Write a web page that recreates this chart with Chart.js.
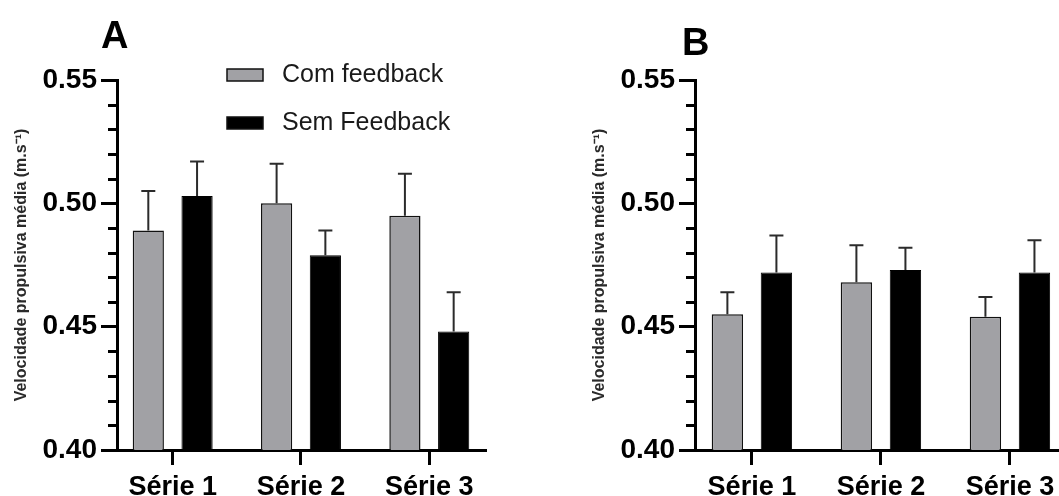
<!DOCTYPE html>
<html>
<head>
<meta charset="utf-8">
<script src="https://cdn.jsdelivr.net/npm/chart.js@4.4.0/dist/chart.umd.min.js"></script>
<style>
  html, body { margin: 0; padding: 0; background: #fff; overflow: hidden; }
  body { width: 1059px; height: 496px; position: relative; }
  canvas { position: absolute; top: 0; }
  #chartA { left: 0; }
  #chartB { left: 578px; }
</style>
</head>
<body>
<canvas id="chartA" width="577" height="496"></canvas>
<canvas id="chartB" width="577" height="496"></canvas>
<script>
// Data
const categories = ["Série 1", "Série 2", "Série 3"];
const seriesNames = ["Com feedback", "Sem Feedback"];

// Panel A
const comMeanA = [0.489, 0.5, 0.495];
const comSdA = [0.016, 0.016, 0.017];
const semMeanA = [0.503, 0.479, 0.448];
const semSdA = [0.014, 0.01, 0.016];

// Panel B
const comMeanB = [0.455, 0.468, 0.454];
const comSdB = [0.009, 0.015, 0.008];
const semMeanB = [0.472, 0.473, 0.472];
const semSdB = [0.015, 0.009, 0.013];

const yTicks = [0.4, 0.45, 0.5, 0.55];
const yTitle = "Velocidade propulsiva média (m.s⁻¹)";

const FONT = "'Liberation Sans', Arial, Helvetica, sans-serif";
const GREY = "#a1a1a5";

// error bars (upper whisker only, like the original)
const errorBars = {
  id: "errorBars",
  afterDatasetsDraw(chart) {
    const ctx = chart.ctx;
    const yScale = chart.scales.y;
    ctx.save();
    ctx.strokeStyle = "#2b2b2b";
    ctx.lineWidth = 2;
    chart.data.datasets.forEach((ds, di) => {
      const meta = chart.getDatasetMeta(di);
      meta.data.forEach((bar, i) => {
        const top = yScale.getPixelForValue(ds.data[i].y + ds.sd[i]);
        ctx.beginPath();
        ctx.moveTo(bar.x, bar.y);
        ctx.lineTo(bar.x, top);
        ctx.moveTo(bar.x - 7, top);
        ctx.lineTo(bar.x + 7, top);
        ctx.stroke();
      });
    });
    ctx.restore();
  },
};

// minor ticks on the y axis + panel letter + legend
const decorations = {
  id: "decorations",
  afterDraw(chart, args, opts) {
    const ctx = chart.ctx;
    const yScale = chart.scales.y;
    const left = chart.chartArea.left;
    ctx.save();
    ctx.strokeStyle = "#000";
    ctx.lineWidth = 3;
    for (let k = 41; k < 55; k++) {
      if (k % 5 === 0) continue;
      const y = Math.round(yScale.getPixelForValue(k / 100)) + 0.5;
      ctx.beginPath();
      ctx.moveTo(left - 9, y);
      ctx.lineTo(left, y);
      ctx.stroke();
    }

    ctx.fillStyle = "#000";
    ctx.font = "bold 38px " + FONT;
    ctx.textBaseline = "alphabetic";
    ctx.textAlign = "left";
    ctx.fillText(opts.letter, opts.letterX, opts.letterY);

    if (opts.legend) {
      ctx.font = "25px " + FONT;
      ctx.textBaseline = "middle";
      chart.data.datasets.forEach((ds, i) => {
        const by = 69 + i * 48;
        ctx.fillStyle = ds.backgroundColor;
        ctx.fillRect(227, by, 36, 12);
        ctx.lineWidth = 1.5;
        ctx.strokeStyle = "#111";
        ctx.strokeRect(227, by, 36, 12);
        ctx.fillStyle = "#1a1a1a";
        ctx.fillText(ds.label, 282, by + 6);
      });
    }
    ctx.restore();
  },
};

function makePanel(canvasId, comMean, comSd, semMean, semSd, xMin, xMax, deco) {
  const ctx = document.getElementById(canvasId).getContext("2d");
  return new Chart(ctx, {
    type: "bar",
    data: {
      datasets: [
        {
          label: seriesNames[0],
          data: comMean.map((v, i) => ({ x: i, y: v })),
          sd: comSd,
          backgroundColor: GREY,
          borderColor: "#111",
          borderWidth: 1.5,
        },
        {
          label: seriesNames[1],
          data: semMean.map((v, i) => ({ x: i, y: v })),
          sd: semSd,
          backgroundColor: "#000",
          borderColor: "#000",
          borderWidth: 1,
        },
      ],
    },
    options: {
      responsive: false,
      animation: false,
      events: [],
      categoryPercentage: 0.76,
      barPercentage: 0.64,
      layout: { padding: { left: 0, top: 80, right: 91, bottom: 0 } },
      plugins: {
        legend: { display: false },
        tooltip: { enabled: false },
        decorations: deco,
      },
      scales: {
        x: {
          type: "linear",
          min: xMin,
          max: xMax,
          offset: false,
          afterBuildTicks: (scale) => {
            scale.ticks = categories.map((c, i) => ({ value: i }));
          },
          afterFit: (scale) => {
            scale.height = 46;
          },
          ticks: {
            autoSkip: false,
            maxRotation: 0,
            padding: 6,
            color: "#000",
            font: { family: FONT, size: 27, weight: "bold" },
            callback: (value) => categories[value],
          },
          grid: {
            offset: false,
            drawOnChartArea: false,
            drawTicks: true,
            tickLength: 15,
            tickWidth: 3,
            tickColor: "#000",
          },
          border: { display: true, color: "#000", width: 3 },
        },
        y: {
          type: "linear",
          min: 0.4,
          max: 0.55,
          afterBuildTicks: (scale) => {
            scale.ticks = yTicks.map((v) => ({ value: v }));
          },
          afterFit: (scale) => {
            scale.width = 117;
          },
          ticks: {
            padding: 4,
            color: "#000",
            font: { family: FONT, size: 28, weight: "bold" },
            callback: (value) => value.toFixed(2),
          },
          grid: {
            drawOnChartArea: false,
            drawTicks: true,
            tickLength: 16,
            tickWidth: 3,
            tickColor: "#000",
          },
          border: { display: true, color: "#000", width: 3 },
          title: {
            display: true,
            text: yTitle,
            color: "#2a2a2a",
            padding: { top: 12, bottom: 0 },
            font: { family: FONT, size: 16, weight: "bold" },
          },
        },
      },
    },
    plugins: [errorBars, decorations],
  });
}

makePanel("chartA", comMeanA, comSdA, semMeanA, semSdA, -0.434, 2.442,
  { letter: "A", letterX: 101, letterY: 48, legend: true });
makePanel("chartB", comMeanB, comSdB, semMeanB, semSdB, -0.441, 2.419,
  { letter: "B", letterX: 104, letterY: 55, legend: false });
</script>
</body>
</html>
